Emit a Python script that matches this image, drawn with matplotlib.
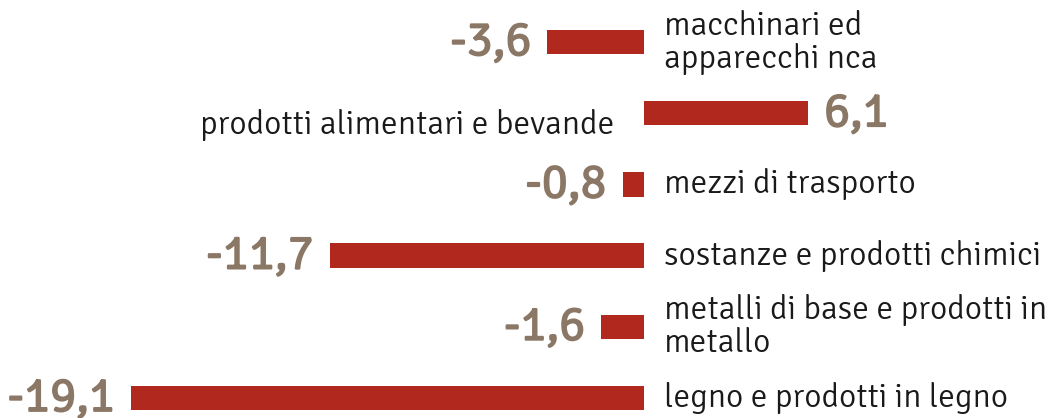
import matplotlib
matplotlib.use("Agg")
import matplotlib.pyplot as plt
import matplotlib.patheffects as pe
from matplotlib import font_manager

categories = ["macchinari ed\napparecchi nca",
              "prodotti alimentari e bevande",
              "mezzi di trasporto",
              "sostanze e prodotti chimici",
              "metalli di base e prodotti in\nmetallo",
              "legno e prodotti in legno"]
values = [-3.6, 6.1, -0.8, -11.7, -1.6, -19.1]
value_labels = ["-3,6", "6,1", "-0,8", "-11,7", "-1,6", "-19,1"]

fl = font_manager.fontManager.ttflist
avail = {f.name for f in fl}
FONT = next((f for f in ["Signika", "Fira Sans Condensed", "DejaVu Sans"] if f in avail), "DejaVu Sans")

BAR = "#b0281e"
VAL = "#8b7765"
TXT = "#1a1a1a"

fig = plt.figure(figsize=(10.55, 4.18), dpi=100)
ax = fig.add_axes([0, 0, 1, 1])
ppu = 26.86
ax.set_xlim(-644 / ppu, (1055 - 644) / ppu)
rs = 71.2
ax.set_ylim((418 - 42) / rs, -42 / rs)
ax.axis("off")

ys = list(range(len(values)))
ax.barh(ys, values, height=0.34, color=BAR)

bold = [pe.withStroke(linewidth=1.3, foreground=VAL)]
off_cat = 20 / ppu
off_val = 16 / ppu
for y, v, cat, lab in zip(ys, values, categories, value_labels):
    if v < 0:
        ax.text(off_cat, y, cat, ha="left", va="center", fontsize=24,
                family=FONT, color=TXT, linespacing=1.04)
        ax.text(v - off_val, y, lab, ha="right", va="center", fontsize=35,
                family=FONT, color=VAL, path_effects=bold)
    else:
        ax.text(-30 / ppu, y + 0.16, cat, ha="right", va="center", fontsize=24,
                family=FONT, color=TXT, linespacing=1.04)
        ax.text(v + off_val, y, lab, ha="left", va="center", fontsize=35,
                family=FONT, color=VAL, path_effects=bold)

fig.savefig("out.png", dpi=100)
